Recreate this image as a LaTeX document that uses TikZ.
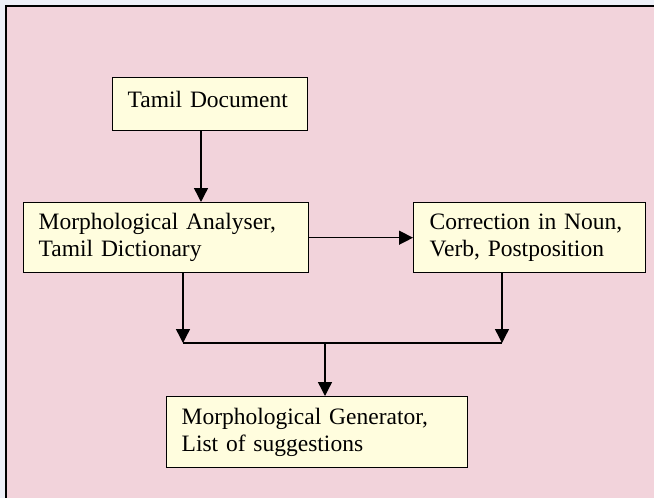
\documentclass[tikz,border=0pt]{standalone}
\usepackage{fontspec}
\setmainfont{Liberation Serif}
\usetikzlibrary{arrows.meta,positioning}

\definecolor{pagepink}{RGB}{242,211,219}
\definecolor{boxcream}{RGB}{255,253,222}
\definecolor{edgewhite}{RGB}{238,240,248}

\tikzset{
  stage/.style={draw=black, fill=boxcream, line width=1.4pt, rectangle,
    anchor=north west, align=left, inner xsep=15pt, inner ysep=0pt,
    font=\fontsize{23.5}{27}\selectfont},
  flow/.style={line width=1.4pt, -{Triangle[length=14pt,width=14pt]}},
}

\begin{document}
\begin{tikzpicture}[x=1pt, y=-1pt]
    \useasboundingbox (0,0) rectangle (654,498);
    \fill[edgewhite] (0,0) rectangle (654,498);
    \draw[line width=2.5pt, fill=pagepink] (6,6) rectangle (680,530);

    % boxes
    \node[stage, minimum width=195pt, minimum height=53pt, text width=165pt, text depth=10pt]
        (doc) at (112,77) {Tamil Document};
    \node[stage, minimum width=285pt, minimum height=70pt, text width=255pt]
        (ana) at (23,202) {Morphological Analyser,\\Tamil Dictionary};
    \node[stage, minimum width=232pt, minimum height=70pt, text width=200pt, inner xsep=16pt]
        (cor) at (413,202) {Correction in Noun,\\Verb, Postposition};
    \node[stage, minimum width=301pt, minimum height=71pt, text width=271pt]
        (gen) at (166,396) {Morphological Generator,\\List of suggestions};

    % junction points
    \coordinate (jd) at (201,0);
    \coordinate (jl) at (183,343);
    \coordinate (jr) at (502,343);
    \coordinate (jc) at (325,343);

    \draw[flow] (doc.south -| jd) -- (ana.north -| jd);
    \draw[flow] (ana.east) -- (cor.west);
    \draw[flow] (ana.south -| jl) -- (jl);
    \draw[flow] (cor.south -| jr) -- (jr);
    \draw[line width=1.4pt] (jl) -- (jr);
    \draw[flow] (jc) -- (gen.north -| jc);
\end{tikzpicture}
\end{document}
